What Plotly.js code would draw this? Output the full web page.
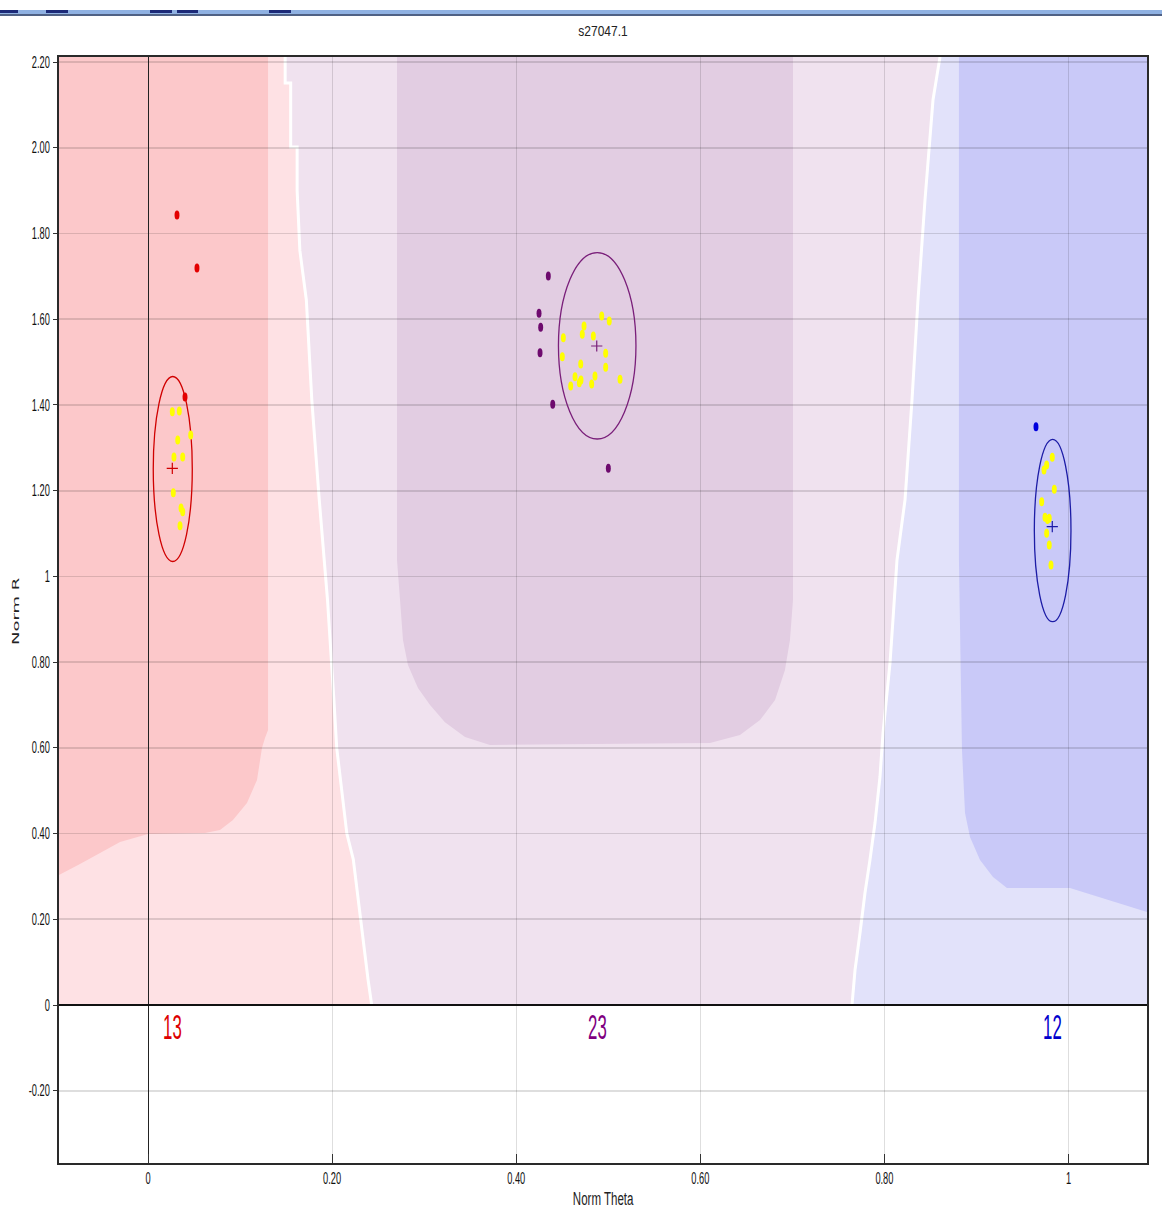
<!DOCTYPE html>
<html>
<head>
<meta charset="utf-8">
<script src="https://cdn.plot.ly/plotly-3.0.1.min.js"></script>
<style>
  html, body { margin: 0; padding: 0; background: #ffffff; }
  #chart { width: 1162px; height: 1209px; }
</style>
</head>
<body>
<div id="chart"></div>
<script>
// ---- Axis extents ----
const THETA_MIN = -0.0967, THETA_MAX = 1.0853;
const R_MIN = -0.3686, R_MAX = 2.2119;

// ---- Tick labels ----
const thetaTicks = [0, 0.2, 0.4, 0.6, 0.8, 1];
const thetaTickText = ['0', '0.20', '0.40', '0.60', '0.80', '1'];
const rTicks = [-0.2, 0, 0.2, 0.4, 0.6, 0.8, 1, 1.2, 1.4, 1.6, 1.8, 2.0, 2.2];
const rTickText = ['-0.20', '0', '0.20', '0.40', '0.60', '0.80', '1', '1.20', '1.40', '1.60', '1.80', '2.00', '2.20'];

// ---- Genotype clusters: AA, AB, BB ----
const clusterNames = ['AA', 'AB', 'BB'];
const clusterCounts = [13, 23, 12];
const clusterTheta = [0.0269, 0.4880, 0.9828];     // ellipse centre
const clusterR = [1.2506, 1.5381, 1.1071];
const clusterThetaDev = [0.0212, 0.0421, 0.0199];  // ellipse half-width
const clusterRDev = [0.2158, 0.2175, 0.2128];      // ellipse half-height
const meanTheta = [0.0264, 0.4875, 0.9824];        // cluster mean (+)
const meanR = [1.2522, 1.5376, 1.1160];

// ---- Samples (unselected) ----
const aaTheta = [0.0315, 0.0532, 0.0402];
const aaR = [1.843, 1.7196, 1.4186];
const abTheta = [0.4349, 0.4248, 0.4266, 0.4259, 0.4397, 0.5001];
const abR = [1.7009, 1.6139, 1.5812, 1.5220, 1.4016, 1.2522];
const bbTheta = [0.9647];
const bbR = [1.3493];

// ---- Samples (selected, highlighted) ----
const aaSelTheta = [0.0264, 0.0340, 0.0464, 0.0323, 0.0282, 0.0377, 0.0275, 0.0359, 0.0377, 0.0348];
const aaSelR = [1.3843, 1.3859, 1.330, 1.318, 1.2786, 1.2786, 1.1953, 1.1596, 1.151, 1.1183];
const abSelTheta = [0.4929, 0.5011, 0.4737, 0.4718, 0.4512, 0.4838, 0.4972, 0.4501, 0.4701, 0.4972,
                    0.4639, 0.4704, 0.4592, 0.4856, 0.4820, 0.5128, 0.4686];
const abSelR = [1.6076, 1.5959, 1.5842, 1.5649, 1.5569, 1.5609, 1.5205, 1.5126, 1.4956, 1.4879,
                1.4659, 1.4582, 1.4442, 1.4676, 1.4489, 1.4599, 1.4520];
const bbSelTheta = [0.9824, 0.9763, 0.9734, 0.9846, 0.9709, 0.9745, 0.9791, 0.9772, 0.9763, 0.9791, 0.9810];
const bbSelR = [1.2779, 1.2599, 1.2483, 1.2032, 1.1743, 1.1379, 1.1356, 1.1330, 1.1006, 1.0733, 1.0266];

// ---- Call-region boundaries (top to bottom) ----
const aaAbBoundTheta = [0.149, 0.149, 0.155, 0.155, 0.162, 0.162, 0.165, 0.172, 0.178, 0.186, 0.195, 0.202, 0.205, 0.216, 0.223, 0.239, 0.243];
const aaAbBoundR = [R_MAX, 2.151, 2.151, 2.002, 2.002, 1.90, 1.76, 1.645, 1.41, 1.18, 0.945, 0.71, 0.60, 0.40, 0.34, 0.06, 0];
const abBbBoundTheta = [0.8604, 0.8528, 0.8441, 0.8365, 0.830, 0.8224, 0.8137, 0.8093, 0.8061, 0.7985, 0.7952, 0.7898, 0.7843, 0.7789, 0.7735, 0.7681, 0.7648];
const abBbBoundR = [R_MAX, 2.1115, 1.878, 1.645, 1.4116, 1.1783, 1.0383, 0.8983, 0.798, 0.6346, 0.532, 0.4246, 0.3383, 0.2613, 0.168, 0.0817, 0];

// ---- Cluster core regions ----
const aaCoreTheta = [THETA_MIN, 0.1304, 0.1304, 0.1271, 0.1238, 0.1184, 0.1075, 0.0923, 0.0782, 0.0619, 0, -0.0304, -0.0521, -0.0739, THETA_MIN];
const aaCoreR = [R_MAX, R_MAX, 0.6416, 0.623, 0.5996, 0.525, 0.4713, 0.4316, 0.4083, 0.4013, 0.399, 0.3803, 0.3546, 0.329, 0.3033];
const abCoreTheta = [0.2705, 0.7007, 0.7007, 0.6974, 0.692, 0.6812, 0.6649, 0.6431, 0.6105, 0.3715, 0.3444, 0.3226, 0.3064, 0.2933, 0.2824, 0.277, 0.2738, 0.2705];
const abCoreR = [R_MAX, R_MAX, 0.945, 0.8516, 0.7816, 0.7116, 0.665, 0.63, 0.6113, 0.6066, 0.6253, 0.660, 0.70, 0.7396, 0.7933, 0.8516, 0.945, 1.0383];
const bbCoreTheta = [0.881, THETA_MAX, THETA_MAX, 1.0016, 0.9332, 0.918, 0.9039, 0.893, 0.8876, 0.8843, 0.881];
const bbCoreR = [R_MAX, R_MAX, 0.217, 0.273, 0.273, 0.2986, 0.3383, 0.392, 0.448, 0.595, 1.038];

// ---- Palette ----
const dotColors = ['#e30000', '#6e0a6e', '#0000dd'];
const ringColors = ['#d00000', '#7a1f7a', '#1c1ca6'];
const countColors = ['#dd0000', '#800080', '#0000cc'];
const selColor = '#ffff00';
const outerFill = ['#fee1e4', '#f0e2ef', '#e2e2fa'];
const coreFill = ['#fcc8ca', '#e2cde2', '#c9c9f8'];

const SANS = '"Liberation Sans", Arial, sans-serif';

function pathOf(xs, ys) {
  return 'M' + xs.map((x, i) => x + ',' + ys[i]).join('L') + 'Z';
}
function linePath(xs, ys) {
  return 'M' + xs.map((x, i) => x + ',' + ys[i]).join('L');
}
function rev(a) { return a.slice().reverse(); }

// Region polygons
const aaOuterPath = pathOf([THETA_MIN, THETA_MIN].concat(aaAbBoundTheta), [0, R_MAX].concat(aaAbBoundR));
const abOuterPath = pathOf(aaAbBoundTheta.concat(rev(abBbBoundTheta)), aaAbBoundR.concat(rev(abBbBoundR)));
const bbOuterPath = pathOf(abBbBoundTheta.concat([THETA_MAX, THETA_MAX]), abBbBoundR.concat([0, R_MAX]));

const shapes = [
  { type: 'path', path: aaOuterPath, xref: 'x', yref: 'y', fillcolor: outerFill[0], line: { width: 0 }, layer: 'below' },
  { type: 'path', path: abOuterPath, xref: 'x', yref: 'y', fillcolor: outerFill[1], line: { width: 0 }, layer: 'below' },
  { type: 'path', path: bbOuterPath, xref: 'x', yref: 'y', fillcolor: outerFill[2], line: { width: 0 }, layer: 'below' },
  { type: 'path', path: pathOf(aaCoreTheta, aaCoreR), xref: 'x', yref: 'y', fillcolor: coreFill[0], line: { width: 0 }, layer: 'below' },
  { type: 'path', path: pathOf(abCoreTheta, abCoreR), xref: 'x', yref: 'y', fillcolor: coreFill[1], line: { width: 0 }, layer: 'below' },
  { type: 'path', path: pathOf(bbCoreTheta, bbCoreR), xref: 'x', yref: 'y', fillcolor: coreFill[2], line: { width: 0 }, layer: 'below' },
  { type: 'path', path: linePath(aaAbBoundTheta, aaAbBoundR), xref: 'x', yref: 'y', line: { color: '#ffffff', width: 3 }, layer: 'below' },
  { type: 'path', path: linePath(abBbBoundTheta, abBbBoundR), xref: 'x', yref: 'y', line: { color: '#ffffff', width: 3 }, layer: 'below' }
];

// Cluster ellipses
clusterNames.forEach((n, i) => {
  shapes.push({
    type: 'circle', xref: 'x', yref: 'y',
    x0: clusterTheta[i] - clusterThetaDev[i], x1: clusterTheta[i] + clusterThetaDev[i],
    y0: clusterR[i] - clusterRDev[i], y1: clusterR[i] + clusterRDev[i],
    line: { color: ringColors[i], width: 1.3 }, layer: 'between'
  });
});

// Window toolbar strip along the top edge
const pxX = px => (px - 59) / 1088;
const pxY = py => (1163 - py) / 1106;
shapes.push({ type: 'rect', xref: 'paper', yref: 'paper', x0: pxX(0), x1: pxX(1162), y0: pxY(14), y1: pxY(10),
  fillcolor: '#8fb1e2', line: { width: 0 }, layer: 'above' });
shapes.push({ type: 'rect', xref: 'paper', yref: 'paper', x0: pxX(0), x1: pxX(1162), y0: pxY(16), y1: pxY(14),
  fillcolor: '#4f6185', line: { width: 0 }, layer: 'above' });
[[0, 18], [46, 68], [150, 172], [177, 198], [269, 291]].forEach(s => {
  shapes.push({ type: 'rect', xref: 'paper', yref: 'paper', x0: pxX(s[0]), x1: pxX(s[1]), y0: pxY(13), y1: pxY(10),
    fillcolor: '#1c2a78', line: { width: 0 }, layer: 'above' });
});

const dot = (x, y, color) => ({
  type: 'scatter', mode: 'markers', x: x, y: y, hoverinfo: 'x+y',
  marker: { color: color, size: 9, line: { width: 0 } }, showlegend: false
});

const traces = [
  dot(aaTheta, aaR, dotColors[0]),
  dot(abTheta, abR, dotColors[1]),
  dot(bbTheta, bbR, dotColors[2]),
  dot(aaSelTheta, aaSelR, selColor),
  dot(abSelTheta, abSelR, selColor),
  dot(bbSelTheta, bbSelR, selColor),
  {
    type: 'scatter', mode: 'markers', x: meanTheta, y: meanR, showlegend: false, hoverinfo: 'x+y',
    marker: { symbol: 'cross-thin', size: 8, color: ringColors, line: { color: ringColors, width: 1.2 } }
  }
];

// Genotype counts under the zero line, plus the vertical R-axis caption
const annotations = clusterNames.map((n, i) => ({
  x: clusterTheta[i], y: -0.051, xref: 'x', yref: 'y', text: String(clusterCounts[i]),
  showarrow: false, font: { family: SANS, size: 35, color: countColors[i] }
}));
annotations.push({
  x: pxX(15), y: pxY(612), xref: 'paper', yref: 'paper', text: 'Norm R', textangle: -90,
  showarrow: false, xanchor: 'center', yanchor: 'middle',
  font: { family: '"DejaVu Sans", Verdana, sans-serif', size: 18, color: '#222222' }
});

const tickFont = { family: SANS, size: 16, color: '#111111' };

const layout = {
  width: 1162, height: 1209,
  margin: { l: 59, r: 15, t: 57, b: 46 },
  paper_bgcolor: '#ffffff', plot_bgcolor: '#ffffff',
  showlegend: false,
  title: { text: 's27047.1', x: 0.5, xref: 'paper', xanchor: 'center', y: 1 - 31 / 1209, yanchor: 'middle',
    font: { family: SANS, size: 15, color: '#222222' } },
  xaxis: {
    range: [THETA_MIN, THETA_MAX], tickvals: thetaTicks, ticktext: thetaTickText,
    ticks: 'inside', ticklen: 9, tickwidth: 1, tickcolor: '#333333', ticklabelstandoff: 0,
    showgrid: true, gridcolor: 'rgba(0,0,0,0.13)', gridwidth: 1,
    zeroline: true, zerolinecolor: '#222222', zerolinewidth: 1,
    showline: true, linecolor: '#2a2a2a', linewidth: 2, mirror: true,
    tickfont: tickFont, automargin: false,
    title: { text: 'Norm Theta', standoff: 7, font: { family: SANS, size: 18, color: '#222222' } },
    fixedrange: true
  },
  yaxis: {
    range: [R_MIN, R_MAX], tickvals: rTicks, ticktext: rTickText,
    ticks: 'outside', ticklen: 4, tickwidth: 1, tickcolor: '#333333',
    showgrid: true, gridcolor: 'rgba(0,0,0,0.13)', gridwidth: 1.6,
    zeroline: true, zerolinecolor: '#111111', zerolinewidth: 2,
    showline: true, linecolor: '#2a2a2a', linewidth: 2, mirror: true,
    tickfont: tickFont, automargin: false,
    fixedrange: true
  },
  shapes: shapes,
  annotations: annotations
};

// Condensed lettering and tall oval sample dots
function squeeze(el, sx, sy, anchorEnd) {
  const b = el.getBBox();
  const cx = anchorEnd ? b.x + b.width : b.x + b.width / 2;
  const cy = b.y + b.height / 2;
  const t = el.getAttribute('transform') || '';
  el.setAttribute('transform', t + ' translate(' + cx + ',' + cy + ') scale(' + sx + ',' + sy + ') translate(' + (-cx) + ',' + (-cy) + ')');
}

Plotly.newPlot('chart', traces, layout, { displayModeBar: false, staticPlot: true }).then(gd => {
  gd.querySelectorAll('.xtick text').forEach(el => squeeze(el, 0.58, 1, false));
  gd.querySelectorAll('.ytick text').forEach(el => squeeze(el, 0.58, 1, true));
  gd.querySelectorAll('.gtitle').forEach(el => squeeze(el, 0.8, 1, false));
  gd.querySelectorAll('.xtitle').forEach(el => squeeze(el, 0.64, 1, false));
  gd.querySelectorAll('g.annotation').forEach(g => {
    const idx = Number(g.getAttribute('data-index'));
    const txt = g.querySelector('text.annotation-text');
    if (!txt) return;
    if (idx < clusterNames.length) squeeze(txt, 0.48, 1, false);
    else squeeze(txt, 1, 0.5, false);
  });
  gd.querySelectorAll('.scatterlayer .trace').forEach((tr, i) => {
    if (i >= 6) return;
    tr.querySelectorAll('path.point').forEach(p => {
      p.setAttribute('transform', (p.getAttribute('transform') || '') + ' scale(0.55,1)');
    });
  });
});
</script>
</body>
</html>
